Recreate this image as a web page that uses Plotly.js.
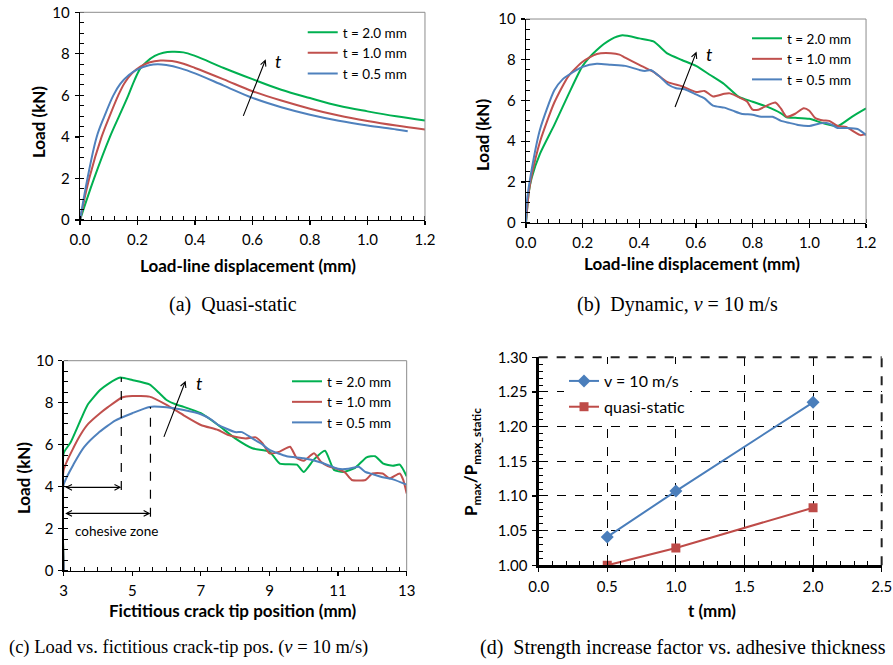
<!DOCTYPE html>
<html><head><meta charset="utf-8">
<script src="https://cdn.plot.ly/plotly-3.0.1.min.js"></script>
<style>body{margin:0;background:#fff}</style>
</head><body><div id="chart" style="width:893px;height:665px"></div>
<script>
// ---------- (a) Quasi-static ----------
const qsX20 = [0, 0.049, 0.104, 0.136, 0.168, 0.19, 0.21, 0.23, 0.26, 0.29, 0.32, 0.36, 0.4, 0.5, 0.6, 0.7, 0.8, 0.9, 1.0, 1.1, 1.2];
const qsY20 = [0, 2, 4, 5, 6, 6.75, 7.3, 7.6, 7.9, 8.05, 8.1, 8.07, 7.9, 7.32, 6.78, 6.27, 5.87, 5.5, 5.23, 4.99, 4.79];
const qsX10 = [0, 0.032, 0.075, 0.103, 0.133, 0.155, 0.18, 0.21, 0.24, 0.28, 0.32, 0.36, 0.4, 0.5, 0.6, 0.7, 0.8, 0.9, 1.0, 1.1, 1.2];
const qsY10 = [0, 2, 4, 5, 6, 6.6, 7.05, 7.38, 7.58, 7.68, 7.65, 7.52, 7.32, 6.77, 6.2, 5.75, 5.36, 5.03, 4.77, 4.55, 4.36];
const qsX05 = [0, 0.026, 0.058, 0.085, 0.116, 0.14, 0.17, 0.2, 0.24, 0.27, 0.3, 0.35, 0.4, 0.5, 0.6, 0.7, 0.8, 0.9, 1.0, 1.1, 1.14];
const qsY05 = [0, 2, 4, 5, 6, 6.55, 6.98, 7.25, 7.45, 7.5, 7.46, 7.3, 7.06, 6.47, 5.88, 5.43, 5.07, 4.78, 4.55, 4.36, 4.27];

// ---------- (b) Dynamic ----------
const dyX20 = [0, 0.01, 0.02, 0.05, 0.1, 0.15, 0.2, 0.25, 0.3, 0.34, 0.4, 0.45, 0.5, 0.55, 0.6, 0.65, 0.7, 0.75, 0.8, 0.85, 0.9, 0.92, 0.95, 1.0, 1.05, 1.1, 1.15, 1.2];
const dyY20 = [0, 1.5, 2.2, 3.4, 4.8, 6.3, 7.7, 8.48, 9.0, 9.2, 9.05, 8.9, 8.3, 7.99, 7.7, 7.25, 6.8, 6.19, 5.94, 5.7, 5.37, 5.17, 5.15, 5.1, 4.88, 4.75, 5.2, 5.61];
const dyX10 = [0, 0.01, 0.02, 0.05, 0.1, 0.15, 0.2, 0.25, 0.3, 0.33, 0.35, 0.4, 0.45, 0.5, 0.55, 0.6, 0.63, 0.66, 0.7, 0.72, 0.76, 0.78, 0.8, 0.82, 0.85, 0.88, 0.9, 0.92, 0.95, 0.98, 1.0, 1.02, 1.05, 1.07, 1.1, 1.13, 1.16, 1.18, 1.2];
const dyY10 = [0, 1.5, 2.3, 4.0, 5.9, 7.2, 7.9, 8.28, 8.32, 8.25, 8.1, 7.75, 7.4, 6.9, 6.7, 6.42, 6.47, 6.2, 6.33, 6.35, 6.1, 5.95, 5.55, 5.55, 5.75, 5.9, 5.6, 5.2, 5.35, 5.62, 5.5, 5.15, 5.02, 5.0, 4.75, 4.7, 4.45, 4.3, 4.35];
const dyX05 = [0, 0.003, 0.02, 0.05, 0.1, 0.13, 0.15, 0.2, 0.25, 0.3, 0.35, 0.4, 0.42, 0.44, 0.47, 0.5, 0.53, 0.56, 0.6, 0.63, 0.66, 0.7, 0.73, 0.76, 0.8, 0.83, 0.87, 0.9, 0.93, 0.96, 1.0, 1.03, 1.06, 1.08, 1.1, 1.13, 1.17, 1.2];
const dyY05 = [0, 1.0, 2.6, 4.6, 6.5, 7.05, 7.25, 7.65, 7.8, 7.75, 7.7, 7.5, 7.45, 7.5, 7.2, 6.8, 6.6, 6.55, 6.3, 6.1, 5.75, 5.65, 5.5, 5.35, 5.3, 5.2, 5.2, 5.0, 4.9, 4.8, 4.75, 4.85, 4.9, 4.8, 4.65, 4.65, 4.6, 4.3];

// ---------- (c) Load vs fictitious crack tip ----------
const ctX20 = [3, 3, 3.2, 3.5, 3.7, 4.06, 4.3, 4.65, 5.0, 5.5, 5.8, 6.0, 6.3, 6.5, 7.0, 7.5, 8.0, 8.5, 9.0, 9.3, 9.8, 10.0, 10.3, 10.62, 10.88, 11.15, 11.5, 11.83, 12.08, 12.32, 12.6, 12.8, 13.0];
const ctY20 = [0, 5.6, 6.1, 7.2, 7.9, 8.6, 8.9, 9.2, 9.08, 8.87, 8.44, 8.13, 7.9, 7.8, 7.5, 6.94, 6.3, 5.83, 5.67, 5.1, 5.05, 4.7, 5.3, 5.71, 4.8, 4.7, 4.9, 5.4, 5.45, 5.1, 5.0, 5.05, 4.5];
const ctX10 = [3, 3, 3.3, 3.5, 3.72, 4.06, 4.3, 4.7, 5.0, 5.5, 6.0, 6.5, 7.0, 7.5, 7.8, 8.0, 8.3, 8.6, 8.8, 9.0, 9.3, 9.6, 9.8, 10.0, 10.3, 10.5, 10.7, 11.0, 11.2, 11.4, 11.8, 12.0, 12.3, 12.5, 12.8, 12.9, 13.0];
const ctY10 = [0, 4.8, 5.9, 6.5, 7.0, 7.5, 7.8, 8.25, 8.32, 8.29, 7.9, 7.4, 6.94, 6.7, 6.46, 6.38, 6.3, 6.35, 6.06, 5.59, 5.67, 5.9, 5.35, 5.24, 5.59, 5.19, 4.98, 4.83, 4.68, 4.32, 4.32, 4.63, 4.63, 4.4, 4.63, 4.32, 3.68];
const ctX05 = [3, 3, 3.3, 3.6, 4.0, 4.5, 5.0, 5.5, 6.0, 6.5, 7.0, 7.3, 7.5, 8.0, 8.2, 8.5, 8.8, 9.0, 9.5, 10.0, 10.5, 11.0, 11.3, 11.6, 11.8, 12.0, 12.3, 12.6, 13.0];
const ctY05 = [0, 4.1, 5.1, 5.9, 6.55, 7.15, 7.5, 7.8, 7.78, 7.65, 7.45, 7.2, 6.95, 6.6, 6.6, 6.3, 6.0, 5.75, 5.45, 5.35, 5.15, 4.85, 4.85, 4.95, 4.7, 4.6, 4.45, 4.35, 4.1];

// ---------- (d) Strength increase factor ----------
const thick = [0.5, 1.0, 2.0];
const ratioDyn = [1.041, 1.107, 1.235];
const ratioQS = [1.000, 1.025, 1.083];

const seriesNames = ['t = 2.0 mm', 't = 1.0 mm', 't = 0.5 mm'];
const GREEN = '#00b050', RED = '#c0504d', BLUE = '#4f81bd';
const TICKFONT = {family: 'Lato', size: 15, color: '#000'};
const TITLEFONT = {family: 'Lato', size: 17, color: '#000', weight: 'bold'};
const LEGFONT = {family: 'Lato', size: 13.5, color: '#000'};

function curve(x, y, name, color, xa, ya, leg, smooth) {
  return {x: x, y: y, name: name, type: 'scatter', mode: 'lines', xaxis: xa, yaxis: ya, legend: leg,
    line: {color: color, width: 2, shape: 'spline', smoothing: smooth}, hoverinfo: 'skip'};
}

const traces = [
  curve(qsX20, qsY20, seriesNames[0], GREEN, 'x', 'y', 'legend', 1),
  curve(qsX10, qsY10, seriesNames[1], RED, 'x', 'y', 'legend', 1),
  curve(qsX05, qsY05, seriesNames[2], BLUE, 'x', 'y', 'legend', 1),
  curve(dyX20, dyY20, seriesNames[0], GREEN, 'x2', 'y2', 'legend2', 0.6),
  curve(dyX10, dyY10, seriesNames[1], RED, 'x2', 'y2', 'legend2', 0.6),
  curve(dyX05, dyY05, seriesNames[2], BLUE, 'x2', 'y2', 'legend2', 0.6),
  curve(ctX20, ctY20, seriesNames[0], GREEN, 'x3', 'y3', 'legend3', 0.5),
  curve(ctX10, ctY10, seriesNames[1], RED, 'x3', 'y3', 'legend3', 0.5),
  curve(ctX05, ctY05, seriesNames[2], BLUE, 'x3', 'y3', 'legend3', 0.5),
  {x: thick, y: ratioDyn, name: 'v = 10 m/s', type: 'scatter', mode: 'lines+markers', xaxis: 'x4', yaxis: 'y4', legend: 'legend4',
   legendgroup: 'g1', line: {color: '#4a7ebb', width: 2}, marker: {symbol: 'diamond', size: 10, color: '#4a7ebb'}, hoverinfo: 'skip'},
  {x: thick, y: ratioQS, name: 'quasi-static', type: 'scatter', mode: 'lines+markers', xaxis: 'x4', yaxis: 'y4', legend: 'legend4',
   legendgroup: 'g2', line: {color: '#be4b48', width: 2}, marker: {symbol: 'square', size: 9, color: '#be4b48'}, hoverinfo: 'skip'}
];

function axis(domain, range, dtick, minor, fmt, anchor, lw) {
  return {domain: domain, range: range, dtick: dtick, tick0: range[0], tickformat: fmt, anchor: anchor,
    showline: true, linecolor: '#000', linewidth: lw || 1.3, ticks: 'outside', ticklen: 4, tickwidth: 1.2, tickcolor: '#000',
    minor: {dtick: minor, ticks: 'inside', ticklen: 4, tickwidth: 1, tickcolor: '#000', showgrid: false},
    showgrid: false, zeroline: false, tickfont: TICKFONT, fixedrange: true, ticklabelstandoff: 2};
}

const layout = {
  width: 893, height: 665, margin: {l: 0, r: 0, t: 0, b: 0},
  paper_bgcolor: '#fff', plot_bgcolor: 'rgba(0,0,0,0)', showlegend: true,
  xaxis: axis([0.0896, 0.4759], [0, 1.2], 0.2, 0.04, '.1f', 'y'),
  yaxis: axis([0.6692, 0.9815], [0, 10], 2, 0.5, 'd', 'x'),
  xaxis2: axis([0.589, 0.9698], [0, 1.2], 0.2, 0.04, '.1f', 'y2'),
  yaxis2: axis([0.6651, 0.9714], [0, 10], 2, 0.5, 'd', 'x2'),
  xaxis3: axis([0.0713, 0.4554], [3, 13], 2, 0.4, 'd', 'y3'),
  yaxis3: axis([0.1418, 0.4576], [0, 10], 2, 0.5, 'd', 'x3'),
  xaxis4: Object.assign(axis([0.6032, 0.9873], [0, 2.5], 0.5, 0.1, '.1f', 'y4', 2.2),
    {showgrid: true, gridcolor: '#000', griddash: 'dash', gridwidth: 1}),
  yaxis4: Object.assign(axis([0.1499, 0.4627], [1.0, 1.3], 0.05, 0.01, '.2f', 'x4', 2.2),
    {showgrid: true, gridcolor: '#000', griddash: 'dash', gridwidth: 1}),
  legend: {x: 0.339, y: 0.9744, xanchor: 'left', yanchor: 'top', bgcolor: 'rgba(255,255,255,0)', font: LEGFONT},
  legend2: {x: 0.8365, y: 0.9654, xanchor: 'left', yanchor: 'top', bgcolor: 'rgba(255,255,255,0)', font: LEGFONT},
  legend3: {x: 0.3214, y: 0.4496, xanchor: 'left', yanchor: 'top', bgcolor: 'rgba(255,255,255,0)', font: LEGFONT},
  legend4: {x: 0.6316, y: 0.4526, xanchor: 'left', yanchor: 'top', bgcolor: '#fff', traceorder: 'grouped', tracegroupgap: 2,
    font: {family: 'Lato', size: 16, color: '#000'}},
  shapes: [],
  annotations: []
};

// plot frame (top & right)
[['x', 'y', '#8c8c8c', 1, 'solid'], ['x2', 'y2', '#8c8c8c', 1, 'solid'], ['x3', 'y3', '#8c8c8c', 1, 'solid'], ['x4', 'y4', '#222', 2, 'dash']].forEach(function (p) {
  layout.shapes.push({type: 'line', xref: p[0] + ' domain', yref: p[1] + ' domain', x0: 0, x1: 1, y0: 1, y1: 1, line: {color: p[2], width: p[3], dash: p[4]}});
  layout.shapes.push({type: 'line', xref: p[0] + ' domain', yref: p[1] + ' domain', x0: 1, x1: 1, y0: 0, y1: 1, line: {color: p[2], width: p[3], dash: p[4]}});
});
// cohesive zone dashed guides (c)
layout.shapes.push({type: 'line', xref: 'x3', yref: 'y3', x0: 4.68, x1: 4.68, y0: 3.84, y1: 9.2, line: {color: '#000', width: 1.2, dash: 'dash'}});
layout.shapes.push({type: 'line', xref: 'x3', yref: 'y3', x0: 5.53, x1: 5.53, y0: 2.57, y1: 7.8, line: {color: '#000', width: 1.2, dash: 'dash'}});

const A = layout.annotations;
function txt(x, y, text, font, extra) {
  A.push(Object.assign({xref: 'paper', yref: 'paper', x: x, y: y, text: text, showarrow: false, font: font, xanchor: 'center', yanchor: 'middle'}, extra || {}));
}
function arrow(xr, yr, x, y, axv, ayv, extra) {
  A.push(Object.assign({xref: xr, yref: yr, axref: xr, ayref: yr, x: x, y: y, ax: axv, ay: ayv, text: '', showarrow: true,
    arrowhead: 5, arrowsize: 1, arrowwidth: 1.1, arrowcolor: '#000'}, extra || {}));
}
// axis titles
txt(0.2777, 0.6015, 'Load-line displacement (mm)', TITLEFONT);
txt(0.0426, 0.8165, 'Load (kN)', TITLEFONT, {textangle: -90});
txt(0.7749, 0.6045, 'Load-line displacement (mm)', TITLEFONT);
txt(0.5409, 0.797, 'Load (kN)', TITLEFONT, {textangle: -90});
txt(0.2609, 0.0827, 'Fictitious crack tip position (mm)', TITLEFONT);
txt(0.0258, 0.2812, 'Load (kN)', TITLEFONT, {textangle: -90});
txt(0.7973, 0.0827, 't (mm)', TITLEFONT);
txt(0.5286, 0.3053, 'P<sub>max</sub>/P<sub>max_static</sub>', TITLEFONT, {textangle: -90});
// captions
const CAP = {family: 'Liberation Serif', size: 20, color: '#000'};
txt(0.2609, 0.5414, '(a)  Quasi-static', CAP);
txt(0.7592, 0.5414, '(b)  Dynamic, <i>v</i> = 10 m/s', CAP);
txt(0.2116, 0.0256, '(c) Load vs. fictitious crack-tip pos. (<i>v</i> = 10 m/s)', {family: 'Liberation Serif', size: 18.5, color: '#000'});
txt(0.7648, 0.0256, '(d)  Strength increase factor vs. adhesive thickness', CAP);
// "t" arrows
const TF = {family: 'Lato', size: 18, color: '#000', style: 'italic'};
arrow('x', 'y', 0.646, 7.74, 0.566, 4.94);
A.push({xref: 'x', yref: 'y', x: 0.69, y: 7.66, text: 't', showarrow: false, font: TF});
arrow('x2', 'y2', 0.602, 8.4, 0.524, 5.61);
A.push({xref: 'x2', yref: 'y2', x: 0.647, y: 8.28, text: 't', showarrow: false, font: TF});
arrow('x3', 'y3', 6.557, 9.05, 5.906, 6.3);
A.push({xref: 'x3', yref: 'y3', x: 6.95, y: 8.92, text: 't', showarrow: false, font: TF});
// cohesive zone double arrows
arrow('x3', 'y3', 4.68, 3.97, 3.0, 3.97, {arrowside: 'end+start', startarrowhead: 5});
arrow('x3', 'y3', 5.53, 2.73, 3.0, 2.73, {arrowside: 'end+start', startarrowhead: 5});
A.push({xref: 'x3', yref: 'y3', x: 3.28, y: 1.89, xanchor: 'left', text: 'cohesive zone', showarrow: false,
  font: {family: 'Lato', size: 13.5, color: '#000'}});

Plotly.newPlot('chart', traces, layout, {staticPlot: true, displayModeBar: false});
</script></body></html>
